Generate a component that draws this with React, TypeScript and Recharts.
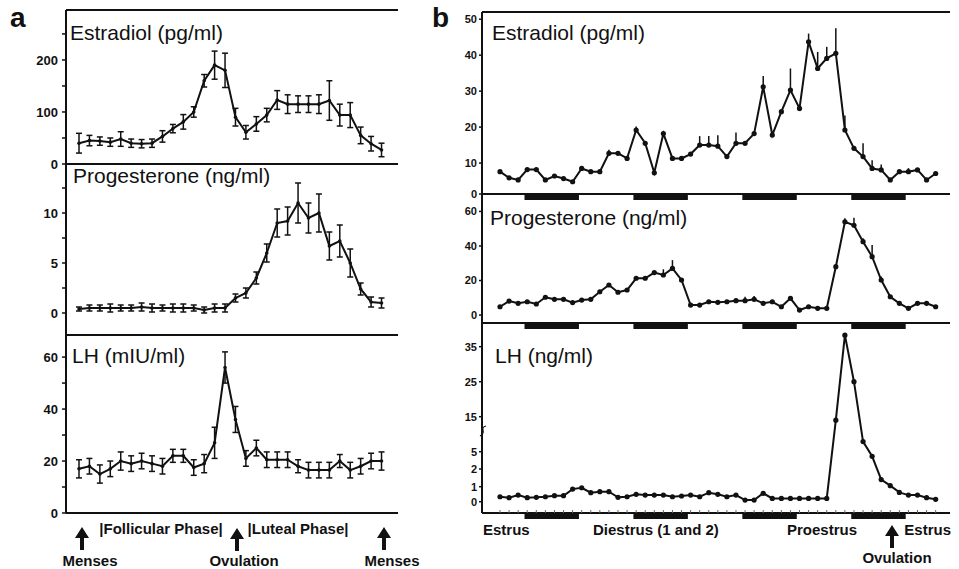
import React from "react";
import {
  LineChart,
  Line,
  XAxis,
  YAxis,
  ErrorBar,
  ReferenceLine,
  ReferenceArea,
} from "recharts";

const INK = "#111";
const FONT = '"Liberation Sans", Arial, Helvetica, sans-serif';

// panel a: human menstrual cycle, 30 daily samples (mean ± sem)
const humanEstradiol = [40, 45, 44, 42, 48, 40, 39, 40, 53, 68, 81, 100, 160, 190, 180, 90, 61, 77, 94, 123, 115, 115, 115, 115, 122, 94, 94, 55, 39, 27];
const humanEstradiolErr = [19, 10, 8, 8, 14, 8, 8, 8, 11, 8, 14, 10, 12, 27, 33, 17, 13, 14, 13, 18, 18, 16, 16, 18, 38, 21, 24, 16, 14, 13];
const humanProgesterone = [0.4, 0.5, 0.5, 0.5, 0.5, 0.5, 0.6, 0.5, 0.5, 0.5, 0.5, 0.5, 0.3, 0.5, 0.5, 1.5, 2, 3.5, 6, 9, 9.2, 11, 9.5, 10, 6.7, 7.2, 5, 2.4, 1.1, 1.0];
const humanProgesteroneErr = [0.2, 0.3, 0.3, 0.4, 0.3, 0.3, 0.4, 0.4, 0.3, 0.4, 0.4, 0.3, 0.3, 0.4, 0.4, 0.4, 0.5, 0.6, 0.9, 1.4, 1.4, 2.0, 1.5, 1.9, 1.4, 1.6, 1.4, 0.6, 0.5, 0.5];
const humanLH = [17, 18, 15, 17, 20, 19, 20, 19, 18, 22, 22, 17.5, 19, 27, 56, 36, 21, 25, 20.5, 20.5, 20.5, 18, 16.5, 16.5, 16.5, 20, 16.5, 18, 20, 20];
const humanLHErr = [3.5, 3, 3.5, 3, 3.5, 3, 3, 3, 3, 2.5, 2.5, 3, 3.5, 6, 6, 5, 3, 3, 3, 3, 3, 2.5, 3, 3, 3, 2.5, 3, 3, 3, 3.5];

// panel b: rat estrous cycle, 49 samples every 2 h (upper sem only)
const ratEstradiol = [7.6, 5.9, 5.3, 8.2, 8.2, 5.3, 6.4, 5.7, 4.8, 8.5, 7.6, 7.6, 12.7, 12.7, 11.3, 19.2, 15.5, 7.3, 18.2, 11.3, 11.3, 12.5, 15, 15, 14.7, 11.8, 15.5, 15.5, 18.2, 31.2, 17.8, 24.3, 30.3, 25.2, 43.7, 36.3, 39.1, 40.5, 19.2, 14.1, 11.8, 8.5, 8.1, 5.3, 7.6, 7.6, 8.1, 5.3, 7.1];
const ratEstradiolErr = [0, 0, 0, 0, 0, 0, 0, 0, 0, 0, 0, 0, 1, 0, 0, 1, 0, 0, 0, 0, 0, 0, 2.5, 2.5, 3, 0, 3, 0, 0, 3, 0, 0, 6, 0, 2.3, 4.6, 3.2, 7, 4, 0, 3.7, 2.3, 1.5, 0, 0, 1, 0, 0, 0];
const ratProgesterone = [4.8, 8.1, 6.8, 7.7, 6.4, 10.3, 9.1, 9.1, 7.2, 8.7, 9.1, 13.5, 17.4, 13.2, 14.5, 21.3, 21.3, 24.6, 23.2, 27, 20.3, 5.8, 5.8, 7.7, 7.4, 7.7, 8.3, 8.3, 9.1, 6.8, 7.7, 4.8, 9.7, 2.9, 4.8, 3.9, 3.9, 28, 54, 52, 42.5, 33.8, 20.3, 10.6, 6.8, 3.9, 6.8, 6.8, 4.8];
const ratProgesteroneErr = [0, 0, 0, 0, 0, 0, 0, 0, 0, 0, 0, 0, 0, 0, 0, 0, 0, 0, 3.3, 4.8, 0, 0, 0, 0, 0, 0, 0, 2.3, 2, 0, 0, 0, 0, 0, 0, 0, 0, 0, 2, 4.4, 2, 6.8, 2, 0, 0, 0, 0, 0, 0];
const ratLH = [0.33, 0.27, 0.44, 0.27, 0.29, 0.33, 0.4, 0.4, 0.84, 0.93, 0.6, 0.67, 0.67, 0.29, 0.33, 0.49, 0.44, 0.44, 0.44, 0.33, 0.38, 0.44, 0.33, 0.6, 0.49, 0.33, 0.44, 0.11, 0.11, 0.56, 0.22, 0.22, 0.22, 0.22, 0.22, 0.22, 0.22, 14, 38.3, 25, 7.9, 4.2, 1.4, 1.06, 0.62, 0.44, 0.44, 0.27, 0.16];

// dark phases of the light cycle, in sample index units
const darkStart = [3.7, 15.7, 27.7, 39.7];
const darkEnd = [9.7, 21.7, 33.7, 45.7];

// tick values
const aEstradiolTicks = [0, 50, 100, 150, 200, 250];
const aEstradiolLabels = [0, 100, 200];
const aProgesteroneTicks = [0, 2.5, 5, 7.5, 10, 12.5];
const aProgesteroneLabels = [0, 5, 10];
const aLHTicks = [0, 10, 20, 30, 40, 50, 60];
const aLHLabels = [0, 20, 40, 60];
const bEstradiolTicks = [0, 10, 20, 30, 40, 50];
const bProgesteroneTicks = [0, 20, 40, 60];
const bLHTicks = [0, 1, 2, 5, 15, 25, 35];

// broken LH axis in panel b: value -> pixel height above the baseline
const lhStopsVal = [0, 1, 2, 5, 35];
const lhStopsPx = [11.3, 26.3, 44, 61.3, 166.3];
function lhPos(v: number) {
  for (let i = 1; i < lhStopsVal.length; i++) {
    if (v <= lhStopsVal[i]) {
      const t = (v - lhStopsVal[i - 1]) / (lhStopsVal[i] - lhStopsVal[i - 1]);
      return lhStopsPx[i - 1] + t * (lhStopsPx[i] - lhStopsPx[i - 1]);
    }
  }
  const n = lhStopsVal.length - 1;
  return lhStopsPx[n] + (v - lhStopsVal[n]) * 3.5;
}

// left axis width, right margin, top margin, bottom axis height
const LW = 56;
const MR = 2;
const MT = 4;
const MB = 24;

interface Row {
  x: number;
  v: number;
  e?: number | number[];
}

interface PanelProps {
  box: [number, number, number, number];
  xDomain: [number, number];
  yDomain: [number, number];
  rows: Row[];
  ticks: number[];
  fmt: (v: number) => string;
  tickFont: number;
  tickSize: number;
  dotR: number;
  capW: number;
  topBorder?: boolean;
  rightTicks?: boolean;
  dark?: boolean;
  bottomTicks?: number[];
}

function Panel(p: PanelProps) {
  const [x0, y0, x1, y1] = p.box;
  const w = x1 - x0 + LW + MR;
  const h = y1 - y0 + MT + MB;
  const perUnit = (y1 - y0) / (p.yDomain[1] - p.yDomain[0]);
  const frame = { stroke: INK, strokeWidth: 2 };
  return (
    <div style={{ position: "absolute", left: x0 - LW, top: y0 - MT }}>
      <LineChart width={w} height={h} data={p.rows} margin={{ top: MT, right: MR, bottom: 0, left: 0 }}>
        <XAxis
          xAxisId="x"
          type="number"
          dataKey="x"
          domain={p.xDomain}
          allowDataOverflow
          height={MB}
          axisLine={frame}
          ticks={p.bottomTicks}
          tick={p.bottomTicks ? { fontSize: 1 } : false}
          tickFormatter={() => ""}
          tickLine={p.bottomTicks ? { stroke: "#666", strokeWidth: 1 } : false}
          tickSize={-3}
          interval={0}
        />
        <YAxis
          yAxisId="L"
          type="number"
          domain={p.yDomain}
          allowDataOverflow
          width={LW}
          ticks={p.ticks}
          interval={0}
          tickFormatter={p.fmt}
          axisLine={frame}
          tickLine={{ stroke: INK, strokeWidth: 1.5 }}
          tickSize={p.tickSize}
          tickMargin={p.tickSize === 4 ? 4 : 2}
          tick={{ fontSize: p.tickFont, fontWeight: 700, fill: INK, fontFamily: FONT }}
        />
        <YAxis
          yAxisId="R"
          orientation="right"
          type="number"
          domain={p.yDomain}
          allowDataOverflow
          width={0}
          ticks={p.ticks}
          interval={0}
          mirror
          tickFormatter={() => ""}
          axisLine={frame}
          tickLine={p.rightTicks ? { stroke: INK, strokeWidth: 1.5 } : false}
          tickSize={4}
          tick={{ fontSize: 1 }}
        />
        {p.topBorder && (
          <ReferenceLine yAxisId="L" xAxisId="x" y={p.yDomain[1]} stroke={INK} strokeWidth={2} />
        )}
        {p.dark &&
          darkStart.map((s, i) => (
            <ReferenceArea
              key={i}
              yAxisId="L"
              xAxisId="x"
              x1={s}
              x2={darkEnd[i]}
              y1={p.yDomain[0] - 0.5 / perUnit}
              y2={p.yDomain[0] - 6 / perUnit}
              fill={INK}
              fillOpacity={1}
              stroke="none"
              ifOverflow="visible"
            />
          ))}
        <Line
          yAxisId="L"
          xAxisId="x"
          type="linear"
          dataKey="v"
          stroke={INK}
          strokeWidth={2}
          dot={{ r: p.dotR, fill: INK, stroke: INK, strokeWidth: 0 }}
          isAnimationActive={false}
        >
          <ErrorBar dataKey="e" direction="y" width={p.capW} stroke={INK} strokeWidth={1.5} />
        </Line>
      </LineChart>
    </div>
  );
}

const pick = (labels: number[]) => (v: number) => (labels.includes(v) ? String(v) : "");

function Arrow({ x, y }: { x: number; y: number }) {
  return (
    <path
      d={`M${x - 7} ${y + 11} L${x} ${y} L${x + 7} ${y + 11} L${x + 2} ${y + 11} L${x + 2} ${y + 23} L${x - 2} ${y + 23} L${x - 2} ${y + 11} Z`}
      fill={INK}
    />
  );
}

export default function App() {
  const xA: [number, number] = [-0.246, 31.58];
  const xB: [number, number] = [-0.983, 50.58];
  const rowsA1 = humanEstradiol.map((v, k) => ({ x: k + 1, v, e: humanEstradiolErr[k] }));
  const rowsA2 = humanProgesterone.map((v, k) => ({ x: k + 1, v, e: humanProgesteroneErr[k] }));
  const rowsA3 = humanLH.map((v, k) => ({ x: k + 1, v, e: humanLHErr[k] }));
  const rowsB1 = ratEstradiol.map((v, k) => ({ x: k + 1, v, e: [0, ratEstradiolErr[k]] }));
  const rowsB2 = ratProgesterone.map((v, k) => ({ x: k + 1, v, e: [0, ratProgesteroneErr[k]] }));
  const rowsB3 = ratLH.map((v, k) => ({ x: k + 1, v: lhPos(v) }));
  const b1Dom: [number, number] = [1.4, 52];
  const lhTickPos = bLHTicks.map(lhPos);

  const title = { fontFamily: FONT, fontSize: 21, fill: INK };
  const note = { fontFamily: FONT, fontSize: 15, fontWeight: 700, fill: INK };

  return (
    <div style={{ position: "absolute", left: 0, top: 0, width: 959, height: 569, background: "#fff", overflow: "hidden" }}>
      <Panel box={[66, 10, 398, 164]} xDomain={xA} yDomain={[0, 296]} rows={rowsA1} ticks={aEstradiolTicks} fmt={pick(aEstradiolLabels)} tickFont={13} tickSize={4} dotR={1.8} capW={3} topBorder rightTicks />
      <Panel box={[66, 164, 398, 335]} xDomain={xA} yDomain={[-2.2, 14.9]} rows={rowsA2} ticks={aProgesteroneTicks} fmt={pick(aProgesteroneLabels)} tickFont={13} tickSize={4} dotR={1.8} capW={3} rightTicks />
      <Panel box={[66, 335, 398, 513]} xDomain={xA} yDomain={[0, 68.5]} rows={rowsA3} ticks={aLHTicks} fmt={pick(aLHLabels)} tickFont={13} tickSize={4} dotR={1.8} capW={3} rightTicks />

      <Panel box={[482, 12, 950, 194]} xDomain={xB} yDomain={b1Dom} rows={rowsB1} ticks={bEstradiolTicks.map((t) => Math.max(t, b1Dom[0]))} fmt={(v) => (v < 5 ? "0" : String(v))} tickFont={11} tickSize={3} dotR={2.6} capW={0} topBorder dark />
      <Panel box={[482, 194, 950, 323]} xDomain={xB} yDomain={[-4.6, 70.1]} rows={rowsB2} ticks={bProgesteroneTicks} fmt={(v) => String(v)} tickFont={11} tickSize={3} dotR={2.6} capW={0} dark />
      <Panel box={[482, 323, 950, 513]} xDomain={xB} yDomain={[0, 190]} rows={rowsB3} ticks={lhTickPos} fmt={(v) => String(bLHTicks[lhTickPos.indexOf(v)])} tickFont={11} tickSize={3} dotR={2.6} capW={0} dark bottomTicks={ratLH.map((_, k) => k + 1)} />

      <svg width={959} height={569} style={{ position: "absolute", left: 0, top: 0, pointerEvents: "none" }}>
        <text x={10} y={27} style={{ fontFamily: FONT, fontSize: 28, fontWeight: 700, fill: INK }}>a</text>
        <text x={432} y={27} style={{ fontFamily: FONT, fontSize: 28, fontWeight: 700, fill: INK }}>b</text>

        <text x={70} y={40} style={title}>Estradiol (pg/ml)</text>
        <text x={73} y={183} style={title}>Progesterone (ng/ml)</text>
        <text x={72} y={363} style={title}>LH (mIU/ml)</text>
        <text x={492} y={40} style={title}>Estradiol (pg/ml)</text>
        <text x={490} y={225} style={title}>Progesterone (ng/ml)</text>
        <text x={495} y={363} style={title}>LH (ng/ml)</text>

        {/* axis break mark on the LH (ng/ml) scale */}
        <path d="M480 436 Q484 434 483 430 Q482 427 486 426" fill="none" stroke={INK} strokeWidth={1.2} />

        <Arrow x={82} y={527} />
        <Arrow x={237} y={528} />
        <Arrow x={384} y={527} />
        <Arrow x={892} y={525} />
        <text x={161} y={534} textAnchor="middle" style={note}>|Follicular Phase|</text>
        <text x={298} y={534} textAnchor="middle" style={note}>|Luteal Phase|</text>
        <text x={90} y={566} textAnchor="middle" style={note}>Menses</text>
        <text x={244} y={566} textAnchor="middle" style={note}>Ovulation</text>
        <text x={392} y={566} textAnchor="middle" style={note}>Menses</text>

        <text x={483} y={535} style={note}>Estrus</text>
        <text x={593} y={535} style={note}>Diestrus (1 and 2)</text>
        <text x={787} y={535} style={note}>Proestrus</text>
        <text x={951} y={535} textAnchor="end" style={note}>Estrus</text>
        <text x={897} y={563} textAnchor="middle" style={note}>Ovulation</text>
      </svg>
    </div>
  );
}
